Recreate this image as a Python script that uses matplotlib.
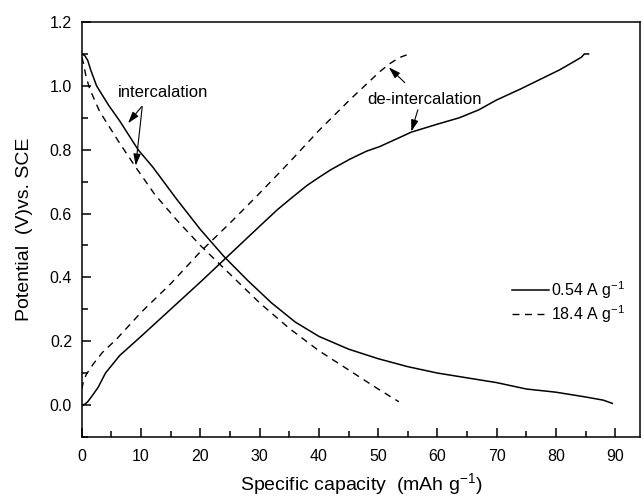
import matplotlib
matplotlib.use("Agg")
import matplotlib.pyplot as plt
from matplotlib.ticker import MultipleLocator

plt.rcParams['font.family'] = ['Liberation Sans', 'DejaVu Sans']
plt.rcParams['mathtext.default'] = 'regular'

# 0.54 A/g, intercalation (discharge)
cap_dis_slow = [0, 0.5, 1, 1.5, 2.5, 3, 4.5, 6.4, 9.5, 12, 16, 20, 24, 28, 32, 36, 40, 45,
                50, 55, 60, 65, 70, 75, 80, 85, 88, 89.5]
pot_dis_slow = [1.10, 1.095, 1.08, 1.05, 1.00, 0.985, 0.94, 0.89, 0.80, 0.745, 0.645, 0.55,
                0.465, 0.39, 0.32, 0.26, 0.215, 0.175, 0.145, 0.12, 0.10, 0.085, 0.07,
                0.05, 0.04, 0.025, 0.015, 0.005]

# 0.54 A/g, de-intercalation (charge)
cap_chg_slow = [0, 0.5, 1, 1.8, 2.75, 4, 6.4, 10, 15, 20, 24, 30, 33, 35.6, 38, 40, 42, 45.2,
                48, 50.3, 55.6, 60, 63.7, 67, 69.9, 74, 78.4, 80.6, 83.4, 84.3, 84.8, 85.5]
pot_chg_slow = [0.0, 0.002, 0.01, 0.03, 0.055, 0.10, 0.155, 0.215, 0.30, 0.385, 0.455, 0.56,
                0.612, 0.652, 0.688, 0.713, 0.737, 0.77, 0.795, 0.81, 0.855, 0.88, 0.90,
                0.925, 0.955, 0.99, 1.03, 1.05, 1.08, 1.09, 1.10, 1.10]

# 18.4 A/g, intercalation (discharge)
cap_dis_fast = [0, 0.3, 0.7, 1.35, 3, 6.4, 9.1, 12.3, 16, 20, 25, 30, 35, 40, 45, 50, 53.5]
pot_dis_fast = [1.09, 1.07, 1.03, 0.99, 0.92, 0.82, 0.745, 0.66, 0.58, 0.50, 0.41, 0.32,
                0.24, 0.17, 0.11, 0.05, 0.01]

# 18.4 A/g, de-intercalation (charge)
cap_chg_fast = [0, 0.3, 0.8, 2, 3.5, 5.85, 10, 15, 20, 25, 29.5, 35, 40, 45.2, 50.3, 52,
                53.5, 54.8]
pot_chg_fast = [0.05, 0.075, 0.097, 0.13, 0.165, 0.206, 0.29, 0.38, 0.48, 0.57, 0.654, 0.76,
                0.86, 0.956, 1.045, 1.07, 1.088, 1.097]

legend_labels = ['0.54 A g$^{-1}$', '18.4 A g$^{-1}$']

fig = plt.figure(figsize=(6.44, 5.01), dpi=100)
ax = fig.add_axes([0.127, 0.128, 0.867, 0.828])

ax.plot(cap_dis_slow, pot_dis_slow, color='k', lw=1.1, label=legend_labels[0])
ax.plot(cap_chg_slow, pot_chg_slow, color='k', lw=1.1)
ax.plot(cap_dis_fast, pot_dis_fast, color='k', lw=1.0, dashes=(5, 4), label=legend_labels[1])
ax.plot(cap_chg_fast, pot_chg_fast, color='k', lw=1.0, dashes=(5, 4))

ax.set_xlim(0, 94.2)
ax.set_ylim(-0.1, 1.2)
ax.xaxis.set_major_locator(MultipleLocator(10))
ax.xaxis.set_minor_locator(MultipleLocator(5))
ax.yaxis.set_major_locator(MultipleLocator(0.2))
ax.yaxis.set_minor_locator(MultipleLocator(0.1))
ax.set_yticks([0, 0.2, 0.4, 0.6, 0.8, 1.0, 1.2])
ax.tick_params(which='both', direction='in', top=False, right=False, labelsize=11.5, width=1.1)
ax.tick_params(which='major', length=6.5)
ax.tick_params(which='minor', length=4)
ax.tick_params(axis='x', pad=9)
ax.tick_params(axis='y', pad=7)
for sp in ax.spines.values():
    sp.set_linewidth(1.1)

ax.set_xlabel('Specific capacity  (mAh g$^{-1}$)', fontsize=14, labelpad=5)
ax.set_ylabel('Potential  (V)vs. SCE', fontsize=14, labelpad=12)

# annotations
ax.text(6.1, 0.98, 'intercalation', fontsize=12, va='center', ha='left')
arrow = dict(arrowstyle='-|>,head_length=0.7,head_width=0.22', color='k', lw=0.8,
             shrinkA=0, shrinkB=0)
ax.annotate('', xy=(7.8, 0.883), xytext=(10.1, 0.935), arrowprops=arrow)
ax.annotate('', xy=(9.1, 0.75), xytext=(10.2, 0.935), arrowprops=arrow)

ax.text(57.9, 0.956, 'de-intercalation', fontsize=12, va='center', ha='center')
ax.annotate('', xy=(51.8, 1.058), xytext=(54.5, 1.01), arrowprops=arrow)
ax.annotate('', xy=(55.6, 0.857), xytext=(56.7, 0.925), arrowprops=arrow)

ax.legend(loc='upper left', bbox_to_anchor=(0.745, 0.415), frameon=False, fontsize=11.5,
          handlelength=2.3, handletextpad=0.15, labelspacing=0.15)

fig.savefig('out.png', dpi=100)
